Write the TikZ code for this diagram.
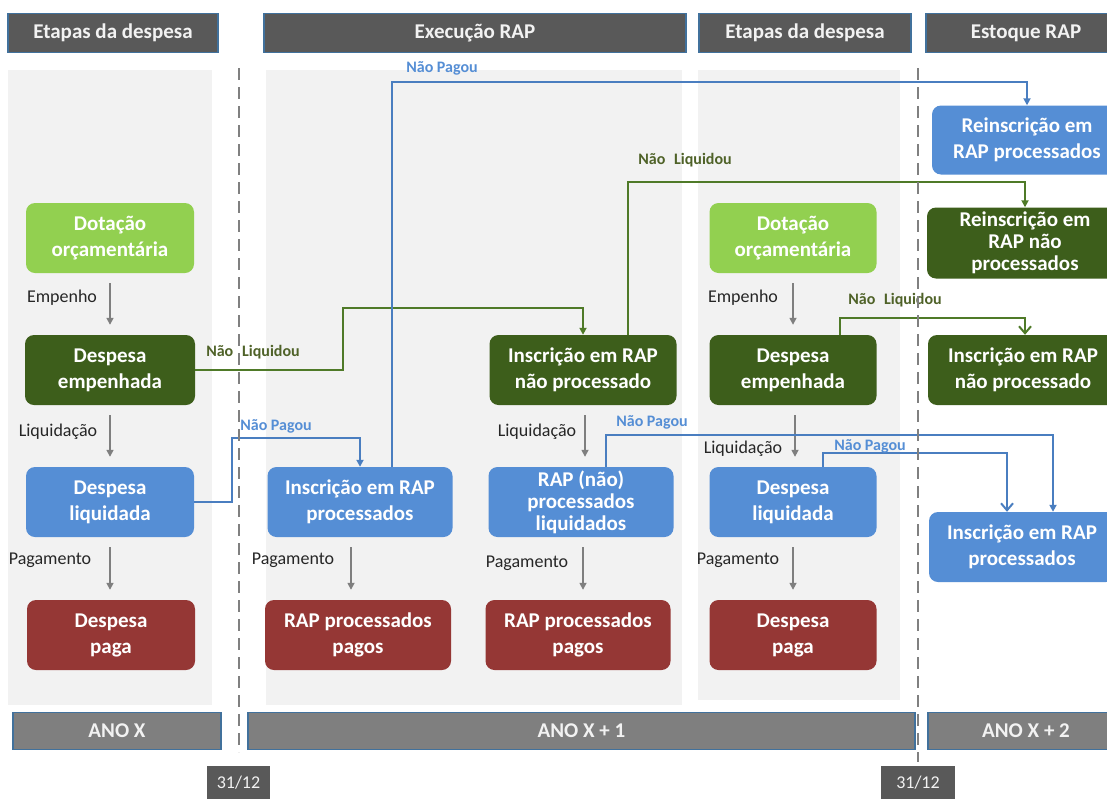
\documentclass[tikz,border=0pt]{standalone}
\usepackage{fontspec}
\setmainfont{Carlito}
\usetikzlibrary{arrows.meta,calc}
\definecolor{hdrfill}{HTML}{595959}
\definecolor{hdrline}{HTML}{41719C}
\definecolor{ftrfill}{HTML}{7F7F7F}
\definecolor{panelgray}{HTML}{F2F2F2}
\definecolor{lgreen}{HTML}{92D050}
\definecolor{dgreen}{HTML}{3D5E1B}
\definecolor{bblue}{HTML}{558ED5}
\definecolor{rred}{HTML}{953735}
\definecolor{glinec}{HTML}{4F7A28}
\definecolor{glabelc}{HTML}{4F6228}
\definecolor{blinec}{HTML}{4A7EC0}
\definecolor{blabelc}{HTML}{558ED5}
\definecolor{arrgray}{HTML}{7F7F7F}
\definecolor{dashgray}{HTML}{808080}
\definecolor{txtdark}{HTML}{262626}
\begin{document}
\begin{tikzpicture}[x=1pt,y=-1pt,
  bx/.style={rounded corners=9pt, minimum height=70pt, align=center, text=white, inner sep=0pt, font=\fontsize{21}{26}\selectfont\bfseries},
  lgbox/.style={bx, fill=lgreen},
  dgbox/.style={bx, fill=dgreen},
  bbox/.style={bx, fill=bblue},
  rbox/.style={bx, fill=rred},
  hdr/.style={fill=hdrfill, draw=hdrline, line width=1.5pt, minimum height=39pt, text=panelgray, font=\fontsize{21}{25}\selectfont\bfseries, inner sep=0pt},
  ftr/.style={hdr, fill=ftrfill, minimum height=37pt},
  datebox/.style={fill=hdrfill, minimum width=63pt, minimum height=34pt, text=panelgray, font=\fontsize{18}{22}\selectfont, inner sep=0pt},
  steplbl/.style={text=txtdark, font=\fontsize{18}{22}\selectfont, inner sep=0pt},
  glbl/.style={text=glabelc, font=\fontsize{16}{20}\selectfont\bfseries, inner sep=0pt},
  blbl/.style={text=blabelc, font=\fontsize{16}{20}\selectfont\bfseries, inner sep=0pt},
  garrow/.style={draw=arrgray, line width=1.6pt, -{Triangle[length=7pt,width=7pt]}},
  gconn/.style={draw=glinec, line width=2pt, -{Triangle[length=7pt,width=7pt]}},
  bconn/.style={draw=blinec, line width=2pt, -{Triangle[length=7pt,width=7pt]}},
  openhead/.style={-{Straight Barb[length=7pt,width=12pt]}},
  dashline/.style={draw=dashgray, line width=2.5pt, dash pattern=on 12pt off 7pt}
]
\useasboundingbox (0,0) rectangle (1107,798);
\clip (0,0) rectangle (1107,798);
\fill[white] (0,0) rectangle (1107,798);

% panels
\fill[panelgray] (8,70) rectangle (212,705);
\fill[panelgray] (266,70) rectangle (682,705);
\fill[panelgray] (698,70) rectangle (900,700);

% headers
\node[hdr, minimum width=210pt] (h1) at (113,33) {Etapas da despesa};
\node[hdr, minimum width=422pt] (h2) at (475,33) {Execução RAP};
\node[hdr, minimum width=212pt] (h3) at (805,33) {Etapas da despesa};
\node[hdr, minimum width=200pt] (h4) at (1026,33) {Estoque RAP};

% footers
\node[ftr, minimum width=208pt] (f1) at (117,731) {ANO X};
\node[ftr, minimum width=667pt] (f2) at (581.5,731) {ANO X + 1};
\node[ftr, minimum width=196pt] (f3) at (1026,731) {ANO X + 2};
\node[datebox] (d1) at (238.5,783) {31/12};
\node[datebox, minimum width=74pt] (d2) at (918,783) {31/12};

% column 1
\node[lgbox, minimum width=168pt] (dot1) at (110,238) {Dotação\\orçamentária};
\node[dgbox, minimum width=170pt] (emp1) at (110,370) {Despesa\\empenhada};
\node[bbox, minimum width=168pt] (liq1) at (110,502) {Despesa\\liquidada};
\node[rbox, minimum width=168pt] (pag1) at (111,635) {Despesa\\paga};
% column 2
\node[bbox, minimum width=185pt] (ins2) at (360,502) {Inscrição em RAP\\processados};
\node[rbox, minimum width=186pt] (pagos2) at (358,635) {RAP processados\\pagos};
% column 3
\node[dgbox, minimum width=187pt] (insnp3) at (583,370) {Inscrição em RAP\\não processado};
\node[bbox, minimum width=185pt, font=\fontsize{21}{22}\selectfont\bfseries] (rapliq3) at (581,502) {RAP (não)\\processados\\liquidados};
\node[rbox, minimum width=185pt] (pagos3) at (578,635) {RAP processados\\pagos};
% column 4
\node[lgbox, minimum width=167pt] (dot4) at (793,238) {Dotação\\orçamentária};
\node[dgbox, minimum width=167pt] (emp4) at (793,370) {Despesa\\empenhada};
\node[bbox, minimum width=167pt] (liq4) at (793,502) {Despesa\\liquidada};
\node[rbox, minimum width=167pt] (pag4) at (793,635) {Despesa\\paga};
% column 5
\node[bbox, minimum width=190pt, minimum height=69pt] (re1) at (1027,140) {Reinscrição em\\RAP processados};
\node[dgbox, minimum width=196pt, minimum height=71pt, font=\fontsize{21}{22}\selectfont\bfseries] (re2) at (1025,243) {Reinscrição em\\RAP não\\processados};
\node[dgbox, minimum width=190pt] (insnp5) at (1023,370) {Inscrição em RAP\\não processado};
\node[bbox, minimum width=186pt] (insp5) at (1022,547) {Inscrição em RAP\\processados};

% step arrows
\draw[garrow] ($(dot1.south)+(0,10)$) -- ($(emp1.north)+(0,-10)$);
\draw[garrow] ($(emp1.south)+(0,10)$) -- ($(liq1.north)+(0,-10)$);
\draw[garrow] ($(liq1.south)+(0,10)$) -- ($(pag1.north)+(-1,-10)$);
\draw[garrow] ($(ins2.south)+(-9,10)$) -- ($(pagos2.north)+(-7,-10)$);
\draw[garrow] ($(insnp3.south)+(2,10)$) -- ($(rapliq3.north)+(4,-10)$);
\draw[garrow] ($(rapliq3.south)+(2,10)$) -- ($(pagos3.north)+(5,-10)$);
\draw[garrow] ($(dot4.south)+(0,10)$) -- ($(emp4.north)+(0,-10)$);
\draw[garrow] ($(emp4.south)+(2,10)$) -- ($(liq4.north)+(2,-10)$);
\draw[garrow] ($(liq4.south)+(0,10)$) -- ($(pag4.north)+(0,-10)$);

% step labels
\node[steplbl] (le1) at (62,298) {Empenho};
\node[steplbl] (lq1) at (58,432) {Liquidação};
\node[steplbl] (lp1) at (50,560) {Pagamento};
\node[steplbl] (lp2) at (293,560) {Pagamento};
\node[steplbl] (lq3) at (537,432) {Liquidação};
\node[steplbl] (lp3) at (527,563) {Pagamento};
\node[steplbl] (le4) at (743,298) {Empenho};
\node[steplbl] (lq4) at (743,449) {Liquidação};
\node[steplbl] (lp4) at (738,560) {Pagamento};

% flow connectors
\draw[gconn] (emp1.east) -- (343,370) -- (343,308) -| (insnp3.north);
\draw[bconn] (liq1.east) -- (232,502) -- (232,438) -| (ins2.north);
\draw[bconn] ($(ins2.north)+(32,0)$) |- (700,82) -| (re1.north);
\draw[gconn] ($(insnp3.north)+(45,0)$) |- (800,182) -| (re2.north);
\draw[gconn,openhead] ($(emp4.north)+(47,0)$) |- (950,318) -| ($(insnp5.north)+(2,0)$);
\draw[bconn] ($(rapliq3.north)+(25,0)$) |- (800,435) -| ($(insp5.north)+(31,0)$);
\draw[bconn,openhead] ($(liq4.north)+(30,0)$) |- (900,453) -| ($(insp5.north)+(-15,0)$);

% connector labels
\node[glbl] (nl1) at (253,352) {Não\hspace{0.55em}Liquidou};
\node[blbl] (np1) at (276,426) {Não Pagou};
\node[blbl] (np2) at (442,68) {Não Pagou};
\node[glbl] (nl2) at (685,160) {Não\hspace{0.55em}Liquidou};
\node[blbl] (np3) at (652,422) {Não Pagou};
\node[blbl] (np4) at (870,446) {Não Pagou};
\node[glbl] (nl3) at (895,300) {Não\hspace{0.55em}Liquidou};

% year separators
\draw[dashline] (239,68) -- (239,752);
\draw[dashline] (918,68) -- (918,762);
\end{tikzpicture}
\end{document}
